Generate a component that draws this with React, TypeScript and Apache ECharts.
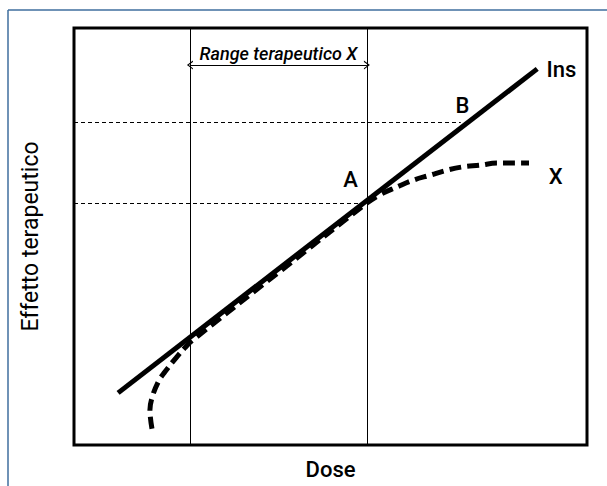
import React, { useEffect, useRef } from "react";
import * as echarts from "echarts";

// Data (axis units: 0..100 for both dose and effect)
const insLine: [number, number][] = [
  [8.6, 12.5],
  [90.3, 90.2],
];
const xCurve: [number, number][] = [
  [15.2, 3.9],
  [14.8, 8.4],
  [15.2, 11.3],
  [16.4, 15.1],
  [17.7, 17.5],
  [19.9, 20.9],
  [21.6, 23.3],
  [23.2, 25.2],
  [40.2, 41.7],
  [57.1, 58.0],
  [59.6, 60.0],
  [63.0, 61.9],
  [66.1, 63.5],
  [69.4, 64.7],
  [72.7, 65.9],
  [75.8, 66.7],
  [79.1, 67.1],
  [82.5, 67.6],
  [85.6, 67.6],
  [88.7, 67.6],
];
const rangeLow = 22.6;
const rangeHigh = 57.1;
const effectA = 58.0;
const effectB = 77.5;
const doseB = 75.4;
const arrowLevel = 91.1;
const pointLabels: [number, number, string][] = [
  [54.0, 63.5, "A"],
  [75.8, 81.4, "B"],
  [95.1, 89.9, "Ins"],
  [94.0, 64.3, "X"],
];
const xName = "Dose";
const yName = "Effetto terapeutico";
const rangeName = "Range terapeutico X";

const FONT = "Roboto, 'Liberation Sans', Arial, sans-serif";
const chevron = "path://M0,10 L5,0 L10,10 L8.4,10 L5,3 L1.6,10 Z";

export default function App() {
  const ref = useRef<HTMLDivElement>(null);
  useEffect(() => {
    if (!ref.current) return;
    const chart = echarts.init(ref.current, null, { renderer: "svg" });
    chart.setOption({
      animation: false,
      backgroundColor: "#fff",
      textStyle: { fontFamily: FONT },
      graphic: [
        {
          type: "line",
          shape: { x1: 8, y1: 10, x2: 607, y2: 10 },
          style: { stroke: "#3f6e9e", lineWidth: 1.5 },
        },
        {
          type: "line",
          shape: { x1: 8, y1: 10, x2: 8, y2: 486 },
          style: { stroke: "#3f6e9e", lineWidth: 1.5 },
        },
      ],
      grid: {
        left: 74,
        right: 20,
        top: 28,
        bottom: 41,
        show: true,
        borderColor: "#000",
        borderWidth: 3,
        backgroundColor: "transparent",
      },
      xAxis: {
        type: "value",
        min: 0,
        max: 100,
        name: xName,
        nameLocation: "middle",
        nameGap: 13,
        nameTextStyle: { fontSize: 22, fontWeight: 500, color: "#000", fontFamily: FONT, verticalAlign: "top" },
        axisLine: { show: false },
        axisTick: { show: false },
        axisLabel: { show: false },
        splitLine: { show: false },
      },
      yAxis: {
        type: "value",
        min: 0,
        max: 100,
        name: yName,
        nameLocation: "middle",
        nameGap: 32,
        nameRotate: 90,
        nameTextStyle: { fontSize: 23, fontWeight: 400, color: "#000", fontFamily: FONT },
        axisLine: { show: false },
        axisTick: { show: false },
        axisLabel: { show: false },
        splitLine: { show: false },
      },
      series: [
        {
          type: "line",
          name: "guides",
          data: [],
          silent: true,
          markLine: {
            silent: true,
            symbol: ["none", "none"],
            label: { show: false },
            data: [
              [
                { coord: [rangeLow, 0], lineStyle: { type: "solid", width: 1, color: "#000" } },
                { coord: [rangeLow, 100] },
              ],
              [
                { coord: [rangeHigh, 0], lineStyle: { type: "solid", width: 1, color: "#000" } },
                { coord: [rangeHigh, 100] },
              ],
              [
                { coord: [0, effectB], lineStyle: { type: [4, 3], width: 1, color: "#000" } },
                { coord: [doseB, effectB] },
              ],
              [
                { coord: [0, effectA], lineStyle: { type: [4, 3], width: 1, color: "#000" } },
                { coord: [rangeHigh, effectA] },
              ],
            ],
          },
        },
        {
          type: "line",
          name: "range",
          data: [],
          silent: true,
          markLine: {
            silent: true,
            symbol: [chevron, chevron],
            symbolSize: [9, 6],
            lineStyle: { type: "solid", width: 1, color: "#000" },
            itemStyle: { color: "#000" },
            label: {
              show: true,
              position: "insideMiddleTop",
              distance: 3,
              formatter: rangeName,
              fontSize: 18,
              fontWeight: 500,
              fontStyle: "italic",
              color: "#000",
              fontFamily: FONT,
            },
            data: [[{ coord: [rangeLow, arrowLevel] }, { coord: [rangeHigh, arrowLevel] }]],
          },
        },
        {
          type: "line",
          name: "Ins",
          data: insLine,
          symbol: "none",
          lineStyle: { color: "#000", width: 5, cap: "butt" },
          z: 5,
        },
        {
          type: "line",
          name: "X",
          data: xCurve,
          symbol: "none",
          smooth: 0.4,
          lineStyle: { color: "#000", width: 5, type: [12, 6], cap: "butt" },
          z: 4,
        },
        {
          type: "scatter",
          name: "labels",
          data: pointLabels,
          symbolSize: 1,
          itemStyle: { opacity: 0 },
          label: {
            show: true,
            position: [0, 0],
            align: "center",
            verticalAlign: "middle",
            formatter: (p: any) => p.data[2],
            fontSize: 22,
            fontWeight: 500,
            color: "#000",
            opacity: 1,
            textBorderWidth: 0,
            fontFamily: FONT,
          },
          z: 6,
        },
      ],
    });
    return () => chart.dispose();
  }, []);
  return (
    <div
      ref={ref}
      style={{ position: "absolute", left: 0, top: 0, width: 607, height: 486 }}
    />
  );
}
